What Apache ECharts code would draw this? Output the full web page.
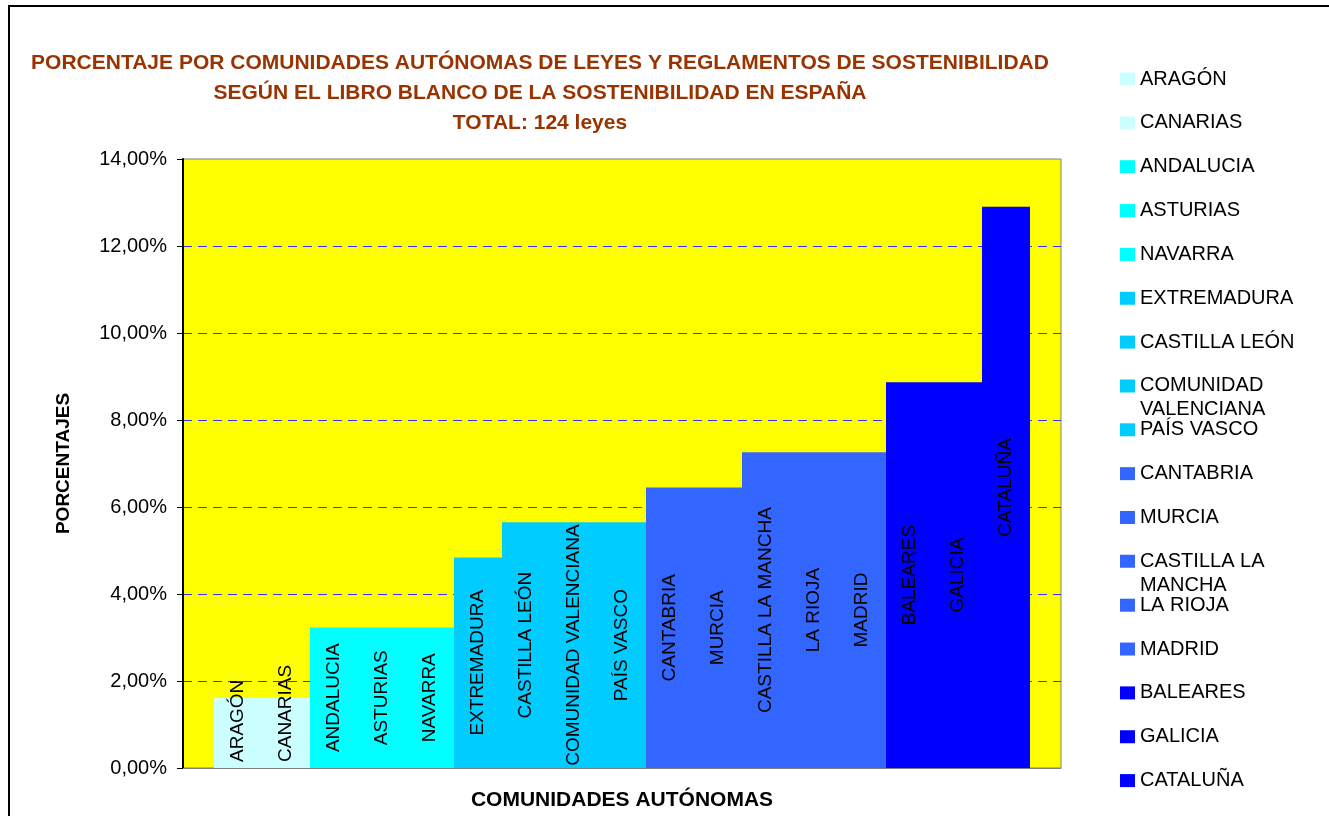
<!DOCTYPE html>
<html>
<head>
<meta charset="utf-8">
<title>Leyes de sostenibilidad por comunidad</title>
<script src="https://cdn.jsdelivr.net/npm/echarts@6/dist/echarts.min.js"></script>
<style>
  html, body { margin: 0; padding: 0; background: #fff; }
  #chart { width: 1329px; height: 816px; }
</style>
</head>
<body>
<div id="chart"></div>
<script>
// comunidades, en el orden de las barras
const regions = [
  'ARAGÓN', 'CANARIAS', 'ANDALUCIA', 'ASTURIAS', 'NAVARRA',
  'EXTREMADURA', 'CASTILLA LEÓN', 'COMUNIDAD VALENCIANA', 'PAÍS VASCO',
  'CANTABRIA', 'MURCIA', 'CASTILLA LA MANCHA', 'LA RIOJA', 'MADRID',
  'BALEARES', 'GALICIA', 'CATALUÑA'
];
// porcentaje sobre el total de 124 leyes
const percents = [
  1.61, 1.61, 3.23, 3.23, 3.23,
  4.84, 5.65, 5.65, 5.65,
  6.45, 6.45, 7.26, 7.26, 7.26,
  8.87, 8.87, 12.90
];
const barColors = [
  '#CCFFFF', '#CCFFFF', '#00FFFF', '#00FFFF', '#00FFFF',
  '#00CCFF', '#00CCFF', '#00CCFF', '#00CCFF',
  '#3366FF', '#3366FF', '#3366FF', '#3366FF', '#3366FF',
  '#0000FF', '#0000FF', '#0000FF'
];
const yTicks = { min: 0, max: 14, interval: 2 };

const font = "Arial, 'Liberation Sans', sans-serif";
const legendPitch = 43.85;   // separacion vertical entre entradas de leyenda
const legendTop = 67;
const wrapped = ['COMUNIDAD VALENCIANA', 'CASTILLA LA MANCHA'];

const chart = echarts.init(document.getElementById('chart'));

// una serie por comunidad, todas en la misma categoria (como en Excel)
const series = regions.map((name, i) => {
  const label = {
    show: true,
    position: 'inside',
    rotate: 90,
    formatter: '{a}',
    color: '#000',
    fontSize: 19,
    fontFamily: font
  };
  // las barras bajas: el texto arranca abajo y sube (no cabe centrado)
  if (percents[i] < 2) {
    label.position = 'insideBottom';
    label.distance = 6;
    label.align = 'left';
    label.verticalAlign = 'middle';
  }
  return {
    name: name,
    type: 'bar',
    data: [percents[i]],
    barGap: '0%',
    barWidth: 48,   // ancho entero: sin costuras entre barras contiguas
    itemStyle: { color: barColors[i] },
    label: label,
    emphasis: { disabled: true }
  };
});

// leyenda en bloques: los nombres en dos lineas van solos, con el cuadro arriba
function legendBlock(from, to) {
  const twoLines = wrapped.indexOf(regions[from]) >= 0;
  return {
    orient: 'vertical',
    left: 1120,
    top: legendTop + from * legendPitch,
    padding: 0,
    itemWidth: 15,
    itemHeight: twoLines ? 37 : 13,
    itemGap: legendPitch - 24,
    icon: twoLines ? 'path://M0,0L15,0L15,13L0,13Z M0,37L0.01,37' : 'rect',
    itemStyle: { borderWidth: 0 },
    selectedMode: false,
    data: regions.slice(from, to),
    textStyle: {
      color: '#000',
      fontSize: 20,
      fontFamily: font,
      width: 175,
      lineHeight: 24,
      overflow: 'break'
    }
  };
}

const option = {
  animation: false,
  backgroundColor: '#fff',
  textStyle: { fontFamily: font },
  title: {
    text: 'PORCENTAJE POR COMUNIDADES AUTÓNOMAS DE LEYES Y REGLAMENTOS DE SOSTENIBILIDAD\n' +
          'SEGÚN EL LIBRO BLANCO DE LA SOSTENIBILIDAD EN ESPAÑA\n' +
          'TOTAL: 124 leyes',
    left: 535,
    top: 43,
    textAlign: 'center',
    textStyle: {
      color: '#993300',
      fontSize: 21,
      fontWeight: 'bold',
      lineHeight: 30,
      fontFamily: font
    }
  },
  legend: [
    legendBlock(0, 7), legendBlock(7, 8), legendBlock(8, 11),
    legendBlock(11, 12), legendBlock(12, 17)
  ],
  grid: {
    left: 183,
    top: 159,
    right: 268,
    bottom: 48,
    outerBoundsMode: 'none',
    show: true,
    backgroundColor: '#FFFF00',
    borderColor: '#808080',
    borderWidth: 1
  },
  xAxis: {
    type: 'category',
    data: [''],
    name: 'COMUNIDADES AUTÓNOMAS',
    nameLocation: 'middle',
    nameGap: 22,
    nameTextStyle: { color: '#000', fontSize: 21, fontWeight: 'bold', fontFamily: font },
    axisLine: { lineStyle: { color: '#808080', width: 1 } },
    axisTick: { show: false },
    axisLabel: { show: false },
    splitLine: { show: false }
  },
  yAxis: {
    type: 'value',
    min: yTicks.min,
    max: yTicks.max,
    interval: yTicks.interval,
    name: 'PORCENTAJES',
    nameLocation: 'middle',
    nameGap: 110,
    nameTextStyle: { color: '#000', fontSize: 19, fontWeight: 'bold', fontFamily: font },
    axisLine: { show: true, lineStyle: { color: '#000', width: 2 } },
    axisTick: { show: true, inside: false, length: 6, lineStyle: { color: '#000' } },
    axisLabel: {
      color: '#000',
      fontSize: 20,
      margin: 16,
      fontFamily: font,
      formatter: v => v.toFixed(2).replace('.', ',') + '%'
    },
    splitLine: {
      show: true,
      showMinLine: false,
      showMaxLine: false,
      lineStyle: { color: '#3333FF', type: [9, 6], width: 1 }
    }
  },
  graphic: [{
    type: 'rect',
    shape: { x: 9, y: 6, width: 1400, height: 900 },
    style: { fill: 'none', stroke: '#000', lineWidth: 2 },
    silent: true
  }],
  series: series
};

chart.setOption(option);
</script>
</body>
</html>
